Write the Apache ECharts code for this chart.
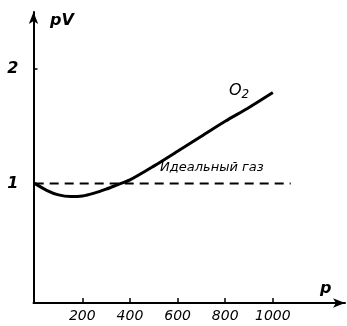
<!DOCTYPE html>
<html><head><meta charset="utf-8">
<script src="https://cdn.jsdelivr.net/npm/echarts@6/dist/echarts.min.js"></script>
<style>html,body{margin:0;padding:0;background:#fff}#c{width:347px;height:326px}</style>
</head><body><div id="c"></div>
<script>
const pressure = [0, 50, 100, 150, 200, 250, 300, 350, 400, 500, 600, 700, 800, 900, 1000];
const pvO2 = [1.0, 0.94, 0.90, 0.885, 0.89, 0.915, 0.95, 0.99, 1.03, 1.15, 1.28, 1.41, 1.54, 1.66, 1.79];
const idealP = [0, 1075];
const idealPV = [1, 1];
const xTicks = [200, 400, 600, 800, 1000];
const yTicks = [1, 2];

const font = 'DejaVu Sans';
const chart = echarts.init(document.getElementById('c'));
chart.setOption({
  animation: false,
  backgroundColor: '#fff',
  grid: { left: 33.5, right: 2, top: 12, bottom: 23 },
  xAxis: {
    type: 'value', min: -5, max: 1303,
    splitLine: { show: false },
    axisLine: { onZero: false, lineStyle: { color: '#000', width: 2 }, symbol: ['none', 'arrow'], symbolSize: [7, 12] },
    axisTick: { inside: true, length: 5, lineStyle: { color: '#000', width: 1.5 }, customValues: xTicks },
    axisLabel: { customValues: xTicks, formatter: v => String(v), color: '#000', fontFamily: font, fontStyle: 'italic', fontSize: 14, margin: 6 }
  },
  yAxis: {
    type: 'value', min: -0.04, max: 2.49,
    splitLine: { show: false },
    axisLine: { onZero: false, lineStyle: { color: '#000', width: 2 }, symbol: ['none', 'arrow'], symbolSize: [7, 12] },
    axisTick: { inside: true, length: 4, lineStyle: { color: '#000', width: 1.5 }, customValues: yTicks },
    axisLabel: { customValues: yTicks, formatter: v => String(v), color: '#000', fontFamily: font, fontStyle: 'italic', fontWeight: 'bold', fontSize: 16, margin: 15 }
  },
  series: [
    { type: 'line', data: pressure.map((p, i) => [p, pvO2[i]]), smooth: 0.3, symbol: 'none',
      lineStyle: { color: '#000', width: 3 } },
    { type: 'line', data: idealP.map((p, i) => [p, idealPV[i]]), symbol: 'none',
      lineStyle: { color: '#000', width: 2, type: [9, 6] } }
  ],
  graphic: [
    { type: 'text', left: 50, top: 13, style: { text: 'pV', font: 'italic bold 16px "DejaVu Sans"', fill: '#000' } },
    { type: 'text', left: 320, top: 281, style: { text: 'p', font: 'italic bold 16px "DejaVu Sans"', fill: '#000' } },
    { type: 'text', left: 229, top: 83, style: {
        text: '{o|O}{s|2}', fill: '#000',
        rich: { o: { font: 'italic 16px "DejaVu Sans"', fill: '#000' },
                s: { font: 'italic 12px "DejaVu Sans"', fill: '#000', padding: [8, 0, 0, 0] } } } },
    { type: 'text', left: 160, top: 161, style: { text: 'Идеальный газ', font: 'italic 13px "DejaVu Sans"', fill: '#000' } }
  ]
});
</script></body></html>
